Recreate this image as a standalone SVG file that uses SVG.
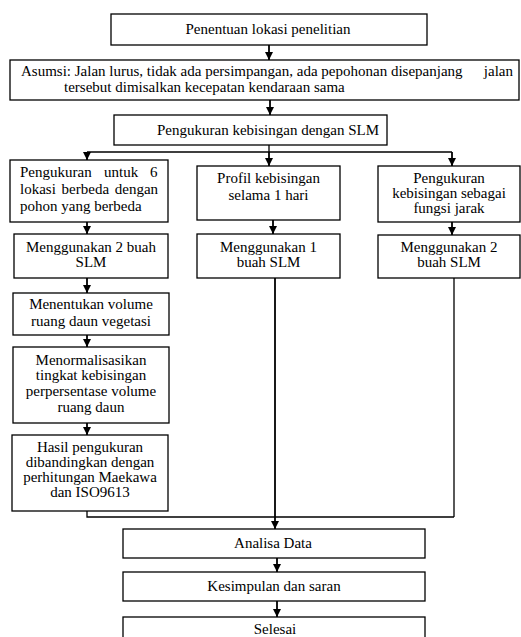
<svg xmlns="http://www.w3.org/2000/svg" width="521" height="637" viewBox="0 0 521 637">
<style>
.box{fill:#fff;stroke:#000;stroke-width:1.3}
.t{font-family:"Liberation Serif","Times New Roman",serif;font-size:15px;fill:#000}
.c{text-anchor:middle}
.ln{fill:none;stroke:#000;stroke-width:1.3}
.ar{fill:none;stroke:#000;stroke-width:1.8;marker-end:url(#ah)}
</style>
<defs>
<marker id="ah" viewBox="0 0 8 8" refX="8" refY="4" markerWidth="8" markerHeight="8" markerUnits="userSpaceOnUse" orient="auto">
<path d="M0,0 L8,4 L0,8 z" fill="#000"/>
</marker>
</defs>
<rect width="521" height="637" fill="#fff"/>
<g id="connectors">
<path class="ar" d="M269,45 V60"/>
<path class="ar" d="M270,100 V115"/>
<path class="ln" d="M269,145 V152 M87,152 H452"/>
<path class="ar" d="M87,152 V160"/>
<path class="ar" d="M269,152 V166"/>
<path class="ar" d="M452,152 V166"/>
<path class="ar" d="M87,222 V234"/>
<path class="ar" d="M273,220 V234"/>
<path class="ar" d="M452,222 V235"/>
<path class="ar" d="M87,278 V293"/>
<path class="ar" d="M87,335 V347"/>
<path class="ar" d="M87,423 V435"/>
<path class="ln" d="M87,511 V517 H454 M454,278 V517"/>
<path class="ar" d="M275,278 V529"/>
<path class="ar" d="M277,558 V572"/>
<path class="ar" d="M277,601 V617"/>
</g>
<g id="n1"><rect class="box" x="111" y="14" width="316" height="31"/><text class="t c" x="268" y="34">Penentuan lokasi penelitian</text></g>
<g id="n2"><rect class="box" x="10" y="60" width="509" height="40"/><text class="t" y="76"><tspan x="21">Asumsi: Jalan lurus, tidak ada persimpangan, ada pepohonan disepanjang</tspan><tspan x="513" text-anchor="end">jalan</tspan></text><text class="t" x="64" y="92">tersebut dimisalkan kecepatan kendaraan sama</text></g>
<g id="n3"><rect class="box" x="114" y="115" width="273" height="30"/><text class="t" x="157" y="135">Pengukuran kebisingan dengan SLM</text></g>
<g id="n4"><rect class="box" x="10" y="160" width="158" height="62"/><text class="t" y="177"><tspan x="20">Pengukuran</tspan><tspan x="104">untuk</tspan><tspan x="150">6</tspan></text><text class="t" x="20" y="194" word-spacing="2">lokasi berbeda dengan</text><text class="t" x="20" y="211">pohon yang berbeda</text></g>
<g id="n5"><rect class="box" x="14" y="234" width="154" height="44"/><text class="t c" x="91" y="252">Menggunakan 2 buah</text><text class="t c" x="91" y="267">SLM</text></g>
<g id="n6"><rect class="box" x="13" y="293" width="156" height="42"/><text class="t c" x="91" y="309">Menentukan volume</text><text class="t c" x="91" y="326">ruang daun vegetasi</text></g>
<g id="n7"><rect class="box" x="13" y="347" width="156" height="76"/><text class="t c" x="91" y="365">Menormalisasikan</text><text class="t c" x="91" y="380">tingkat kebisingan</text><text class="t c" x="91" y="396">perpersentase volume</text><text class="t c" x="91" y="412">ruang daun</text></g>
<g id="n8"><rect class="box" x="12" y="435" width="156" height="76"/><text class="t c" x="90" y="452">Hasil pengukuran</text><text class="t c" x="90" y="467">dibandingkan dengan</text><text class="t c" x="90" y="482">perhitungan Maekawa</text><text class="t c" x="90" y="497">dan ISO9613</text></g>
<g id="n9"><rect class="box" x="197" y="166" width="143" height="54"/><text class="t c" x="268.5" y="183">Profil kebisingan</text><text class="t c" x="268.5" y="200">selama 1 hari</text></g>
<g id="n10"><rect class="box" x="197" y="234" width="143" height="44"/><text class="t c" x="268.5" y="252">Menggunakan 1</text><text class="t c" x="268.5" y="267">buah SLM</text></g>
<g id="n11"><rect class="box" x="378" y="166" width="142" height="56"/><text class="t c" x="449" y="183">Pengukuran</text><text class="t c" x="449" y="198">kebisingan sebagai</text><text class="t c" x="449" y="213">fungsi  jarak</text></g>
<g id="n12"><rect class="box" x="378" y="235" width="142" height="43"/><text class="t c" x="449" y="252">Menggunakan 2</text><text class="t c" x="449" y="267">buah SLM</text></g>
<g id="n13"><rect class="box" x="123" y="529" width="302" height="29"/><text class="t c" x="273" y="548">Analisa Data</text></g>
<g id="n14"><rect class="box" x="123" y="572" width="302" height="29"/><text class="t c" x="274" y="591">Kesimpulan dan saran</text></g>
<g id="n15"><rect class="box" x="123" y="617" width="302" height="30"/><text class="t c" x="275" y="634">Selesai</text></g>
</svg>
